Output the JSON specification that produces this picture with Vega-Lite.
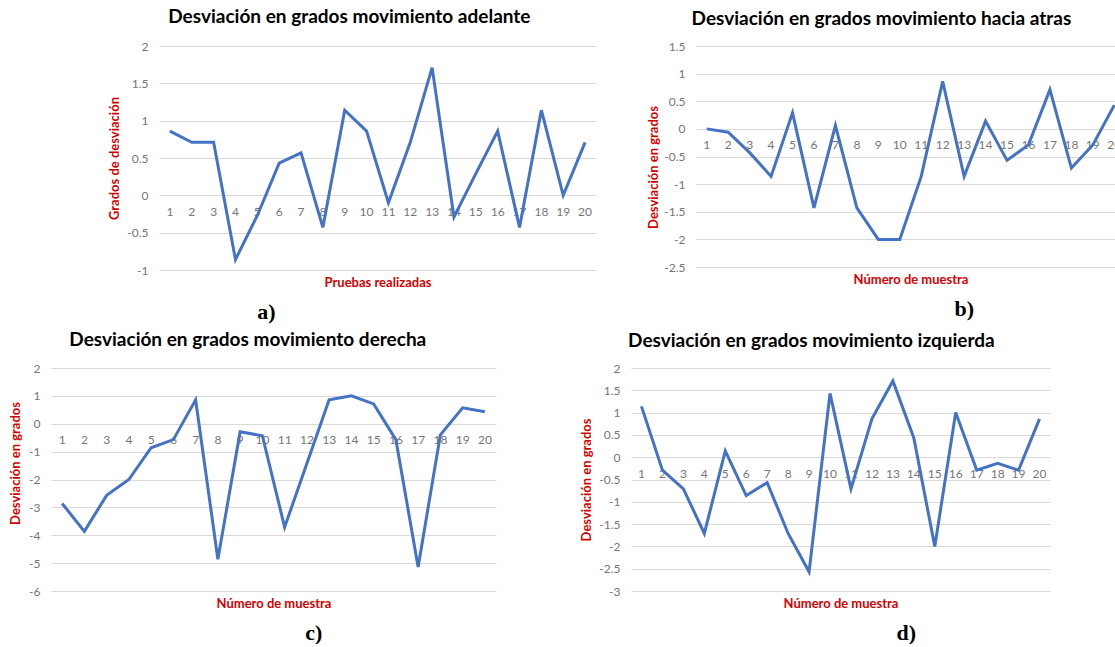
{
  "$schema": "https://vega.github.io/schema/vega-lite/v6.json",
  "padding": {"left": 9, "top": 8, "right": 0, "bottom": 0},
  "background": "white",
  "config": {
    "view": {"stroke": null},
    "font": "Lato",
    "axisY": {
      "grid": true, "gridColor": "#d9d9d9", "gridWidth": 1,
      "domain": false, "ticks": false, "tickCount": 20, "labelOverlap": false,
      "labelColor": "#767676", "labelFontSize": 12, "labelFont": "Lato", "labelPadding": 11,
      "labelExpr": "toString(datum.value)",
      "titleColor": "#d40000", "titleFontSize": 13, "titleFontWeight": "bold", "titleFont": "Lato", "titlePadding": 5
    },
    "axisX": {
      "grid": false, "domain": false, "ticks": false, "labels": false,
      "titleColor": "#d40000", "titleFontSize": 13, "titleFontWeight": "bold", "titleFont": "Lato", "titlePadding": 6
    },
    "title": {"font": "Lato", "fontSize": 19, "fontWeight": "bold", "color": "#000000", "frame": "bounds"}
  },
  "datasets": {
    "a": [
      {"muestra": 1, "grados": 0.86}, {"muestra": 2, "grados": 0.71}, {"muestra": 3, "grados": 0.71}, {"muestra": 4, "grados": -0.86},
      {"muestra": 5, "grados": -0.27}, {"muestra": 6, "grados": 0.43}, {"muestra": 7, "grados": 0.57}, {"muestra": 8, "grados": -0.43},
      {"muestra": 9, "grados": 1.14}, {"muestra": 10, "grados": 0.86}, {"muestra": 11, "grados": -0.1}, {"muestra": 12, "grados": 0.71},
      {"muestra": 13, "grados": 1.71}, {"muestra": 14, "grados": -0.29}, {"muestra": 15, "grados": 0.29}, {"muestra": 16, "grados": 0.86},
      {"muestra": 17, "grados": -0.43}, {"muestra": 18, "grados": 1.14}, {"muestra": 19, "grados": 0}, {"muestra": 20, "grados": 0.71}
    ],
    "b": [
      {"muestra": 1, "grados": 0}, {"muestra": 2, "grados": -0.06}, {"muestra": 3, "grados": -0.43}, {"muestra": 4, "grados": -0.86},
      {"muestra": 5, "grados": 0.29}, {"muestra": 6, "grados": -1.43}, {"muestra": 7, "grados": 0.06}, {"muestra": 8, "grados": -1.43},
      {"muestra": 9, "grados": -2}, {"muestra": 10, "grados": -2}, {"muestra": 11, "grados": -0.86}, {"muestra": 12, "grados": 0.86},
      {"muestra": 13, "grados": -0.86}, {"muestra": 14, "grados": 0.14}, {"muestra": 15, "grados": -0.57}, {"muestra": 16, "grados": -0.29},
      {"muestra": 17, "grados": 0.71}, {"muestra": 18, "grados": -0.71}, {"muestra": 19, "grados": -0.29}, {"muestra": 20, "grados": 0.43}
    ],
    "c": [
      {"muestra": 1, "grados": -2.86}, {"muestra": 2, "grados": -3.86}, {"muestra": 3, "grados": -2.57}, {"muestra": 4, "grados": -2},
      {"muestra": 5, "grados": -0.86}, {"muestra": 6, "grados": -0.57}, {"muestra": 7, "grados": 0.86}, {"muestra": 8, "grados": -4.86},
      {"muestra": 9, "grados": -0.29}, {"muestra": 10, "grados": -0.43}, {"muestra": 11, "grados": -3.71}, {"muestra": 12, "grados": -1.43},
      {"muestra": 13, "grados": 0.86}, {"muestra": 14, "grados": 1}, {"muestra": 15, "grados": 0.71}, {"muestra": 16, "grados": -0.57},
      {"muestra": 17, "grados": -5.14}, {"muestra": 18, "grados": -0.4}, {"muestra": 19, "grados": 0.57}, {"muestra": 20, "grados": 0.43}
    ],
    "d": [
      {"muestra": 1, "grados": 1.14}, {"muestra": 2, "grados": -0.29}, {"muestra": 3, "grados": -0.71}, {"muestra": 4, "grados": -1.71},
      {"muestra": 5, "grados": 0.14}, {"muestra": 6, "grados": -0.86}, {"muestra": 7, "grados": -0.57}, {"muestra": 8, "grados": -1.71},
      {"muestra": 9, "grados": -2.57}, {"muestra": 10, "grados": 1.43}, {"muestra": 11, "grados": -0.71}, {"muestra": 12, "grados": 0.86},
      {"muestra": 13, "grados": 1.71}, {"muestra": 14, "grados": 0.43}, {"muestra": 15, "grados": -2}, {"muestra": 16, "grados": 1},
      {"muestra": 17, "grados": -0.29}, {"muestra": 18, "grados": -0.14}, {"muestra": 19, "grados": -0.29}, {"muestra": 20, "grados": 0.86}
    ]
  },
  "spacing": 8,
  "vconcat": [
    {
      "spacing": 51,
      "hconcat": [
        {"width": 6, "height": 10, "data": {"values": []}, "mark": "rule", "encoding": {}},
        {
          "title": {"text": "a)", "orient": "bottom", "anchor": "middle", "dx": -86, "offset": 13, "font": "Liberation Serif", "fontSize": 22, "fontWeight": "bold", "color": "#000000"},
          "vconcat": [
            {
              "title": {"text": "Desviación en grados movimiento adelante", "dx": -3, "offset": 13},
              "width": 437, "height": 224,
              "data": {"name": "a"},
              "layer": [
                {
                  "mark": {"type": "text", "dy": 16.5, "color": "#767676", "fontSize": 12, "font": "Lato"},
                  "encoding": {
                    "x": {"field": "muestra", "type": "ordinal", "scale": {"type": "point", "padding": 0.5}, "axis": {"title": "Pruebas realizadas"}},
                    "y": {"datum": 0, "type": "quantitative"},
                    "text": {"field": "muestra"}
                  }
                },
                {
                  "mark": {"type": "line", "color": "#4472C4", "strokeWidth": 3},
                  "encoding": {
                    "x": {"field": "muestra", "type": "ordinal"},
                    "y": {"field": "grados", "type": "quantitative", "scale": {"domain": [-1, 2], "nice": false, "zero": false},
                          "axis": {"values": [-1, -0.5, 0, 0.5, 1, 1.5, 2], "title": "Grados de desviación"}}
                  }
                }
              ]
            }
          ]
        },
        {
          "title": {"text": "b)", "orient": "bottom", "anchor": "middle", "dx": 78, "offset": 13, "font": "Liberation Serif", "fontSize": 22, "fontWeight": "bold", "color": "#000000"},
          "vconcat": [
            {
              "title": {"text": "Desviación en grados movimiento hacia atras", "dx": -5, "offset": 11},
              "width": 429, "height": 221,
              "data": {"name": "b"},
              "layer": [
                {
                  "mark": {"type": "text", "dy": 16, "color": "#767676", "fontSize": 12, "font": "Lato"},
                  "encoding": {
                    "x": {"field": "muestra", "type": "ordinal", "scale": {"type": "point", "padding": 0.5}, "axis": {"title": "Número de muestra"}},
                    "y": {"datum": 0, "type": "quantitative"},
                    "text": {"field": "muestra"}
                  }
                },
                {
                  "mark": {"type": "line", "color": "#4472C4", "strokeWidth": 3},
                  "encoding": {
                    "x": {"field": "muestra", "type": "ordinal"},
                    "y": {"field": "grados", "type": "quantitative", "scale": {"domain": [-2.5, 1.5], "nice": false, "zero": false},
                          "axis": {"values": [-2.5, -2, -1.5, -1, -0.5, 0, 0.5, 1, 1.5], "title": "Desviación  en grados", "titlePadding": 3, "titleY": 121}}
                  }
                }
              ]
            }
          ]
        }
      ]
    },
    {
      "spacing": 84,
      "hconcat": [
        {
          "title": {"text": "c)", "orient": "bottom", "anchor": "middle", "dx": 61, "offset": 13, "font": "Liberation Serif", "fontSize": 22, "fontWeight": "bold", "color": "#000000"},
          "vconcat": [
            {
              "title": {"text": "Desviación en grados movimiento derecha", "dx": -5, "offset": 12},
              "width": 445, "height": 223,
              "data": {"name": "c"},
              "layer": [
                {
                  "mark": {"type": "text", "dy": 16, "color": "#767676", "fontSize": 12, "font": "Lato"},
                  "encoding": {
                    "x": {"field": "muestra", "type": "ordinal", "scale": {"type": "point", "padding": 0.5}, "axis": {"title": "Número de muestra"}},
                    "y": {"datum": 0, "type": "quantitative"},
                    "text": {"field": "muestra"}
                  }
                },
                {
                  "mark": {"type": "line", "color": "#4472C4", "strokeWidth": 3},
                  "encoding": {
                    "x": {"field": "muestra", "type": "ordinal"},
                    "y": {"field": "grados", "type": "quantitative", "scale": {"domain": [-6, 2], "nice": false, "zero": false},
                          "axis": {"values": [-6, -5, -4, -3, -2, -1, 0, 1, 2], "title": "Desviación  en grados", "titlePadding": 6, "titleY": 95}}
                  }
                }
              ]
            }
          ]
        },
        {
          "title": {"text": "d)", "orient": "bottom", "anchor": "middle", "dx": 91, "offset": 13, "font": "Liberation Serif", "fontSize": 22, "fontWeight": "bold", "color": "#000000"},
          "vconcat": [
            {
              "title": {"text": "Desviación en grados movimiento izquierda", "dx": -4, "offset": 11},
              "width": 419, "height": 223,
              "data": {"name": "d"},
              "layer": [
                {
                  "mark": {"type": "text", "dy": 17, "color": "#767676", "fontSize": 12, "font": "Lato"},
                  "encoding": {
                    "x": {"field": "muestra", "type": "ordinal", "scale": {"type": "point", "padding": 0.5}, "axis": {"title": "Número de muestra"}},
                    "y": {"datum": 0, "type": "quantitative"},
                    "text": {"field": "muestra"}
                  }
                },
                {
                  "mark": {"type": "line", "color": "#4472C4", "strokeWidth": 3},
                  "encoding": {
                    "x": {"field": "muestra", "type": "ordinal"},
                    "y": {"field": "grados", "type": "quantitative", "scale": {"domain": [-3, 2], "nice": false, "zero": false},
                          "axis": {"values": [-3, -2.5, -2, -1.5, -1, -0.5, 0, 0.5, 1, 1.5, 2], "title": "Desviación  en grados"}}
                  }
                }
              ]
            }
          ]
        }
      ]
    }
  ]
}
